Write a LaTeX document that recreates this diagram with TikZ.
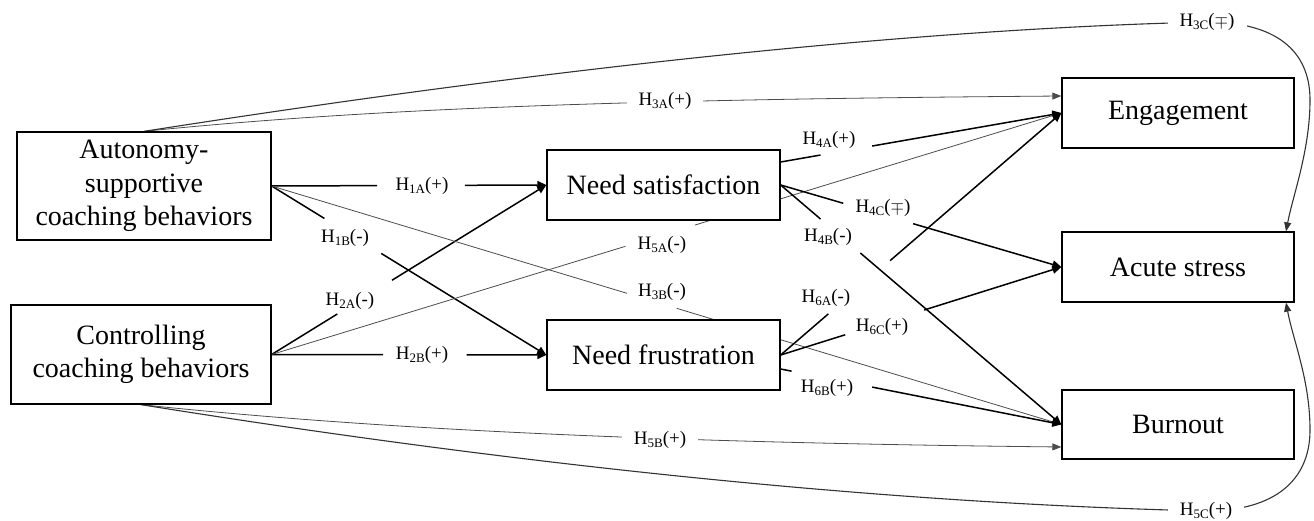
\documentclass[tikz,border=0pt]{standalone}
\usepackage{fontspec}
\setmainfont{Liberation Serif}
\usetikzlibrary{arrows.meta,calc}
\pgfdeclarelayer{bg}
\pgfsetlayers{bg,main}
\newcommand\hyp[2]{H\raisebox{-2.5pt}{\fontsize{13}{13}\selectfont #1}(#2)}
\newcommand\gapline[5]{\draw[#1] (#2) -- ($(#2)!#4!(#3)$) ($(#2)!#5!(#3)$) -- (#3);}
\begin{document}
\begin{tikzpicture}[x=1pt,y=-1pt,
  box/.style={draw=black,line width=1.3pt,fill=white,align=center,
    font=\fontsize{28}{33.5}\selectfont,inner sep=0pt},
  lab/.style={font=\fontsize{19}{19}\selectfont,inner sep=0pt},
  clab/.style={lab,fill=white,inner xsep=12pt,inner ysep=5pt},
  conn/.style={line width=1.5pt,draw=black,-{Triangle[length=9pt,width=8pt]}},
  thinconn/.style={line width=0.8pt,draw=black!70,-{Triangle[length=9pt,width=7pt]}},
  curveconn/.style={line width=1.1pt,draw=black!80,-{Triangle[length=9pt,width=7pt]}}]
\useasboundingbox (0,0) rectangle (1314,521);

% boxes
\node[box,minimum width=254pt,minimum height=108pt] (auto) at (144,186) {Autonomy-\\supportive\\coaching behaviors};
\node[box,minimum width=260pt,minimum height=99pt] (ctrl) at (141,354.5) {Controlling\\coaching behaviors};
\node[box,minimum width=233pt,minimum height=70pt] (ns) at (663.5,185) {Need satisfaction};
\node[box,minimum width=233pt,minimum height=70pt] (nf) at (663.5,355) {Need frustration};
\node[box,minimum width=232pt,minimum height=70pt] (eng) at (1178,113) {Engagement};
\node[box,minimum width=232pt,minimum height=70pt] (acu) at (1178,267) {Acute stress};
\node[box,minimum width=232pt,minimum height=69pt] (bur) at (1178,424.5) {Burnout};

% shifted anchors
\coordinate (ns-a) at ($(ns.east)+(0,-23)$);
\coordinate (nf-b) at ($(nf.east)+(0,14)$);
\coordinate (eng-t) at ($(eng.west)+(0,-17)$);
\coordinate (bur-b) at ($(bur.west)+(0,22.5)$);
\coordinate (acu-n) at ($(acu.north)+(108,0)$);
\coordinate (acu-s) at ($(acu.south)+(108,0)$);

\begin{pgfonlayer}{bg}
% straight connectors with gaps
\gapline{conn}{auto.east}{ns.west}{0.384}{0.703}
\gapline{conn}{ctrl.east}{nf.west}{0.406}{0.710}
\gapline{conn}{auto.east}{nf.west}{0.192}{0.399}
\gapline{conn}{ctrl.east}{ns.west}{0.239}{0.438}
\gapline{thinconn}{ctrl.east}{eng.west}{0.448}{0.536}
\gapline{thinconn}{auto.east}{bur.west}{0.450}{0.513}
\gapline{conn}{ns-a}{eng.west}{0.142}{0.326}
\gapline{conn}{ns.east}{acu.west}{0.223}{0.472}
\gapline{conn}{ns.east}{bur.west}{0.142}{0.284}
\gapline{conn}{nf.east}{eng.west}{0.170}{0.390}
\gapline{conn}{nf.east}{acu.west}{0.230}{0.511}
\gapline{conn}{nf-b}{bur.west}{0.039}{0.326}

% curved connectors
\draw[thinconn] (auto.north) .. controls (400,105) and (700,99) .. (eng-t);
\draw[thinconn] (ctrl.south) .. controls (400,432) and (700,443) .. (bur-b);
\draw[curveconn] (auto.north) .. controls (600,60) and (950,28) .. (1207,22)
   .. controls (1275,22) and (1310,50) .. (1310,100)
   .. controls (1310,150) and (1293,195) .. (acu-n);
\draw[curveconn] (ctrl.south) .. controls (600,478) and (950,505) .. (1206,511)
   .. controls (1275,511) and (1310,480) .. (1310,430)
   .. controls (1310,380) and (1293,340) .. (acu-s);
\node[clab] (l3a) at (665,101) {\hyp{3A}{+}};
\node[clab] (l5b) at (660,440) {\hyp{5B}{+}};
\node[clab] (l3c) at (1207,22) {\hyp{3C}{$\mp$}};
\node[clab] (l5c) at (1206,511) {\hyp{5C}{+}};
\end{pgfonlayer}

% labels
\node[lab] (l1a) at (422,186) {\hyp{1A}{+}};
\node[lab] (l2b) at (422,355) {\hyp{2B}{+}};
\node[lab] (l1b) at (345,238) {\hyp{1B}{-}};
\node[lab] (l2a) at (350,301) {\hyp{2A}{-}};
\node[lab] (l5a) at (662,245) {\hyp{5A}{-}};
\node[lab] (l3b) at (662,292) {\hyp{3B}{-}};
\node[lab] (l4a) at (829,140) {\hyp{4A}{+}};
\node[lab] (l4c) at (883,208) {\hyp{4C}{$\mp$}};
\node[lab] (l4b) at (828,237) {\hyp{4B}{-}};
\node[lab] (l6a) at (826,298) {\hyp{6A}{-}};
\node[lab] (l6c) at (882,327) {\hyp{6C}{+}};
\node[lab] (l6b) at (827,388) {\hyp{6B}{+}};
\end{tikzpicture}
\end{document}
